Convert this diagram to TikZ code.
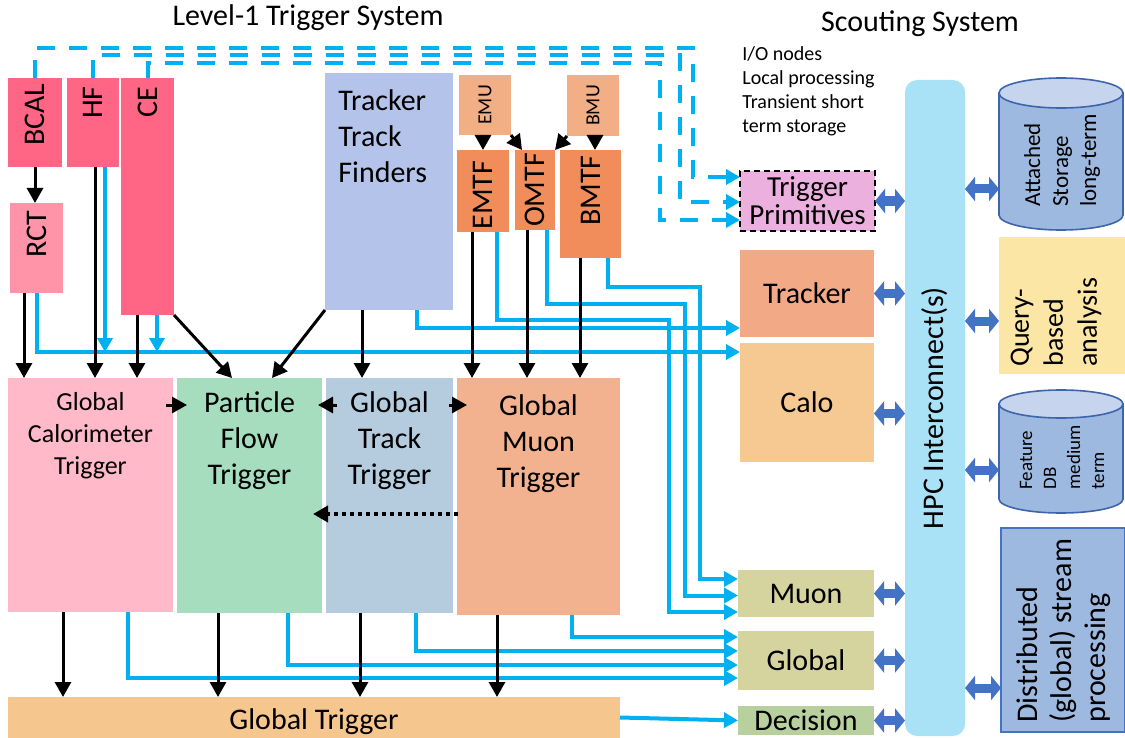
\documentclass[tikz,border=0pt]{standalone}
\usepackage{fontspec}
\setmainfont{Carlito}
\usepackage{xcolor}
\usetikzlibrary{positioning,arrows.meta,calc}

\definecolor{calred}{HTML}{FF6685}
\definecolor{rctpink}{HTML}{FF93A8}
\definecolor{gctpink}{HTML}{FFB9C8}
\definecolor{pfgreen}{HTML}{A6DDBE}
\definecolor{gttblue}{HTML}{B4CCDD}
\definecolor{gmtorange}{HTML}{F2B28F}
\definecolor{gtorange}{HTML}{F6C68F}
\definecolor{ttfblue}{HTML}{B3C3EA}
\definecolor{muorange}{HTML}{F2AE84}
\definecolor{tforange}{HTML}{F08D5A}
\definecolor{tpviolet}{HTML}{EBB0DE}
\definecolor{trkorange}{HTML}{F2A985}
\definecolor{caloorange}{HTML}{F6C993}
\definecolor{scoutolive}{HTML}{D6D49E}
\definecolor{decgreen}{HTML}{B8CF9E}
\definecolor{hpcblue}{HTML}{A9E2F6}
\definecolor{storeblue}{HTML}{9DB9E0}
\definecolor{storetop}{HTML}{C7D4EE}
\definecolor{storeedge}{HTML}{3E65AC}
\definecolor{queryyellow}{HTML}{FCE6A6}
\definecolor{linkblue}{HTML}{00B0F0}
\definecolor{dblblue}{HTML}{4472C4}

\begin{document}
\begin{tikzpicture}[
    x=0.5pt, y=-0.5pt,
    box/.style={anchor=north west, inner sep=0pt, outer sep=0pt},
    lbl/.style={font=\fontsize{15}{18}\selectfont, align=center, inner sep=0pt},
    vlbl/.style={lbl, rotate=90},
    blk/.style={line width=1.5pt, -{Triangle[length=7.5pt,width=8pt]}},
    dotarrow/.style={blk, line width=2pt, dash pattern=on 2pt off 2pt},
    lnk/.style={linkblue, line width=2pt, -{Triangle[length=7pt,width=7.5pt]}},
    dashlink/.style={lnk, dash pattern=on 9pt off 7pt},
    biarrow/.style={dblblue, line width=4.5pt, {Triangle[length=5pt,width=12pt]}-{Triangle[length=5pt,width=12pt]}},
    cyl/.style={fill=storeblue, draw=storeedge, line width=0.8pt}
]
\useasboundingbox (0,0) rectangle (1125,738);

% === Titles ===
\node[lbl] (l1title) at (308,18) {Level-1 Trigger System};
\node[lbl] (sctitle) at (920,24) {Scouting System};
\node[font=\fontsize{10}{12}\selectfont, align=left, anchor=north west, inner sep=0pt] (iotxt) at (742,46)
    {I/O nodes\\Local processing\\Transient short\\term storage};

% === Calorimeter inputs ===
\node[box, fill=calred, minimum width=27pt, minimum height=44.5pt] (bcal) at (8,78) {};
\node[box, fill=calred, minimum width=26pt, minimum height=44.5pt] (hf) at (67,78) {};
\node[box, fill=calred, minimum width=26.5pt, minimum height=118.5pt] (ce) at (121,78) {};
\node[box, fill=rctpink, minimum width=26.5pt, minimum height=45pt] (rct) at (10,203) {};
\node[vlbl, anchor=east] (bcaltxt) at ($(bcal.north)+(0,5)$) {BCAL};
\node[vlbl, anchor=east] (hftxt) at ($(hf.north)+(0,8)$) {HF};
\node[vlbl, anchor=east] (cetxt) at ($(ce.north)+(0,8)$) {CE};
\node[vlbl, anchor=east] (rcttxt) at ($(rct.north)+(0,7)$) {RCT};

% === Tracker and muon inputs ===
\node[box, fill=ttfblue, minimum width=64pt, minimum height=118.5pt] (ttf) at (325,73) {};
\node[lbl, align=left, anchor=north west] (ttftxt) at ($(ttf.north west)+(13,16)$) {Tracker\\Track\\Finders};
\node[box, fill=muorange, minimum width=26pt, minimum height=30pt] (emu) at (459,75) {};
\node[box, fill=muorange, minimum width=26pt, minimum height=30.5pt] (bmu) at (567,75) {};
\node[box, fill=tforange, minimum width=26pt, minimum height=41pt] (emtf) at (457,150) {};
\node[box, fill=tforange, minimum width=20pt, minimum height=40pt] (omtf) at (515,150) {};
\node[box, fill=tforange, minimum width=30.5pt, minimum height=54pt] (bmtf) at (560,150) {};
\node[vlbl, font=\fontsize{10}{12}\selectfont] (emutxt) at (emu.center) {EMU};
\node[vlbl, font=\fontsize{10}{12}\selectfont] (bmutxt) at (bmu.center) {BMU};
\node[vlbl] (emtftxt) at ($(emtf.center)+(0,4)$) {EMTF};
\node[vlbl] (omtftxt) at (omtf.center) {OMTF};
\node[vlbl, anchor=east] (bmtftxt) at ($(bmtf.north)+(0,5)$) {BMTF};

% === Global triggers ===
\node[box, fill=gctpink, minimum width=82.5pt, minimum height=117pt] (gct) at (8,378) {};
\node[box, fill=pfgreen, minimum width=72.5pt, minimum height=117.5pt] (pft) at (177,378) {};
\node[box, fill=gttblue, minimum width=63.5pt, minimum height=117.5pt] (gtt) at (326,378) {};
\node[box, fill=gmtorange, minimum width=81.5pt, minimum height=118.5pt] (gmt) at (457,378) {};
\node[lbl, font=\fontsize{13}{16}\selectfont, anchor=north] (gcttxt) at ($(gct.north)+(0,14)$) {Global\\Calorimeter\\Trigger};
\node[lbl, anchor=north] (pfttxt) at ($(pft.north)+(0,13)$) {Particle\\Flow\\Trigger};
\node[lbl, anchor=north] (gtttxt) at ($(gtt.north)+(0,13)$) {Global\\Track\\Trigger};
\node[lbl, anchor=north] (gmttxt) at ($(gmt.north)+(0,16)$) {Global\\Muon\\Trigger};
\node[box, fill=gtorange, minimum width=306pt, minimum height=20.5pt] (gt) at (8,697) {};
\node[lbl] (gtlbl) at ($(gt.center)+(0,4)$) {Global Trigger};

% === Scouting nodes ===
\node[box, lbl, fill=tpviolet, draw=black, densely dashed, line width=0.6pt, font=\fontsize{14.5}{14}\selectfont,
      minimum width=67.5pt, minimum height=30pt] (tp) at (740,171) {Trigger\\Primitives};
\node[box, lbl, fill=trkorange, minimum width=67pt, minimum height=43.5pt] (trk) at (740,250) {Tracker};
\node[box, lbl, fill=caloorange, minimum width=67pt, minimum height=59.5pt] (calo) at (740,343) {Calo};
\node[box, lbl, fill=scoutolive, minimum width=68pt, minimum height=23.5pt] (muon) at (738,570) {Muon};
\node[box, lbl, fill=scoutolive, minimum width=68pt, minimum height=29.5pt] (glob) at (738,631) {Global};
\node[box, lbl, fill=decgreen, minimum width=68pt, minimum height=14.5pt] (dec) at (738,706) {Decision};
\node[box, fill=hpcblue, rounded corners=6pt, minimum width=30pt, minimum height=328pt] (hpc) at (905,80) {};
\node[vlbl] (hpctxt) at (hpc.center) {HPC Interconnect(s)};

% === Storage and analysis ===
\filldraw[cyl] (999,93) -- (999,215) arc[start angle=180, end angle=360, x radius=31pt, y radius=7.5pt] -- (1123,93) -- cycle;
\filldraw[cyl, fill=storetop] (1061,93) ellipse[x radius=31pt, y radius=7.5pt];
\node[box, minimum width=62pt, minimum height=76pt] (attstore) at (999,78) {};
\node[vlbl, font=\fontsize{11.5}{14}\selectfont, align=left, anchor=west] (atttxt) at (1062,207) {Attached\\Storage\\long-term};
\node[box, fill=queryyellow, minimum width=63pt, minimum height=68.5pt] (query) at (999,237) {};
\node[vlbl, font=\fontsize{14}{17}\selectfont, align=left, anchor=west] (querytxt) at (1056,367) {Query-\\based\\analysis};
\filldraw[cyl] (999,404) -- (999,499) arc[start angle=180, end angle=360, x radius=31pt, y radius=7pt] -- (1123,404) -- cycle;
\filldraw[cyl, fill=storetop] (1061,404) ellipse[x radius=31pt, y radius=7pt];
\node[box, minimum width=62pt, minimum height=61.5pt] (featdb) at (999,390) {};
\node[vlbl, font=\fontsize{9.5}{12}\selectfont, align=left, anchor=west] (feattxt) at (1062,490) {Feature\\DB\\medium\\term};
\node[box, fill=storeblue, draw=dblblue, line width=0.8pt, minimum width=62pt, minimum height=102pt] (dist) at (1001,528) {};
\node[vlbl, font=\fontsize{15}{17}\selectfont, align=left, anchor=west] (disttxt) at (1064,723) {Distributed\\(global) stream\\processing};

% === Trigger primitive copies (dashed) ===
\draw[dashlink] (35,0 |- bcal.north) |- (693,48) |- ($(tp.north west)+(0,6)$);
\draw[dashlink] (93,0 |- hf.north) |- (680,55) |- ($(tp.west)+(0,1)$);
\draw[dashlink] (148,0 |- ce.north) |- (660,63) |- ($(tp.south west)+(0,-11)$);

% === Copies into scouting ===
\coordinate (calobus) at (37,352);
\draw[lnk] (37,0 |- rct.south) |- ($(calo.north west)+(0,9)$);
\draw[lnk] (105,0 |- hf.south) -- (105,0 |- calobus);
\draw[lnk] (157,0 |- ce.south) -- (157,0 |- calobus);
\draw[lnk] (417,0 |- ttf.south) |- ($(trk.south west)+(0,-9)$);
\draw[lnk] (497,0 |- emtf.south) |- (669,320) |- ($(muon.south west)+(0,-5)$);
\draw[lnk] (547,0 |- omtf.south) |- (685,304) |- ($(muon.west)+(0,2)$);
\draw[lnk] (608,0 |- bmtf.south) |- (700,287) |- ($(muon.north west)+(0,9)$);
\draw[lnk] (572,0 |- gmt.south) |- ($(glob.north west)+(0,6)$);
\draw[lnk] (416,0 |- gtt.south) |- ($(glob.north west)+(0,20)$);
\draw[lnk] (288,0 |- pft.south) |- ($(glob.north west)+(0,34)$);
\draw[lnk] (128,0 |- gct.south) |- ($(glob.north west)+(0,47)$);
\draw[lnk] (gt.east) -- (dec.west);

% === Level-1 data flow ===
\draw[blk] (35,0 |- bcal.south) -- (35,0 |- rct.north);
\draw[blk] (24,0 |- rct.south) -- (24,0 |- gct.north);
\draw[blk] (95,0 |- hf.south) -- (95,0 |- gct.north);
\draw[blk] (137,0 |- ce.south) -- (137,0 |- gct.north);
\draw[blk] (ce.south east) -- (232,0 |- pft.north);
\draw[blk] (ttf.south west) -- (272,0 |- pft.north);
\draw[blk] (362,0 |- ttf.south) -- (362,0 |- gtt.north);
\draw[blk] (483,0 |- emu.south) -- (483,0 |- emtf.north);
\draw[blk] (emu.south east) -- (522,0 |- omtf.north);
\draw[blk] (bmu.south west) -- (omtf.north east);
\draw[blk] (595,0 |- bmu.south) -- (595,0 |- bmtf.north);
\draw[blk] (472,0 |- emtf.south) -- (472,0 |- gmt.north);
\draw[blk] (527,0 |- omtf.south) -- (527,0 |- gmt.north);
\draw[blk] (580,0 |- bmtf.south) -- (580,0 |- gmt.north);
\draw[blk] ($(gct.north east)+(-7,27)$) -- ($(pft.north west)+(10,27)$);
\draw[blk] ($(gtt.north west)+(11,27)$) -- ($(pft.north east)+(-4,27)$);
\draw[blk] ($(gtt.north east)+(-4,27)$) -- ($(gmt.north west)+(10,27)$);
\draw[dotarrow] ($(gmt.north west)+(1,136)$) -- ($(pft.north east)+(-9,136)$);
\draw[blk] (63,0 |- gct.south) -- (63,0 |- gt.north);
\draw[blk] (218,0 |- pft.south) -- (218,0 |- gt.north);
\draw[blk] (360,0 |- gtt.south) -- (360,0 |- gt.north);
\draw[blk] (497,0 |- gmt.south) -- (497,0 |- gt.north);

% === HPC links ===
\draw[biarrow] (tp.east) -- (tp.east -| hpc.west);
\draw[biarrow] (trk.east) -- (trk.east -| hpc.west);
\draw[biarrow] ($(calo.east)+(0,11)$) -- ($(calo.east -| hpc.west)+(0,11)$);
\draw[biarrow] (muon.east) -- (muon.east -| hpc.west);
\draw[biarrow] (glob.east) -- (glob.east -| hpc.west);
\draw[biarrow] (dec.east) -- (dec.east -| hpc.west);
\draw[biarrow] (hpc.east |- 0,189) -- (attstore.west |- 0,189);
\draw[biarrow] (hpc.east |- 0,321) -- (query.west |- 0,321);
\draw[biarrow] (hpc.east |- 0,470) -- (featdb.west |- 0,470);
\draw[biarrow] (hpc.east |- 0,688) -- (dist.west |- 0,688);
\end{tikzpicture}
\end{document}
